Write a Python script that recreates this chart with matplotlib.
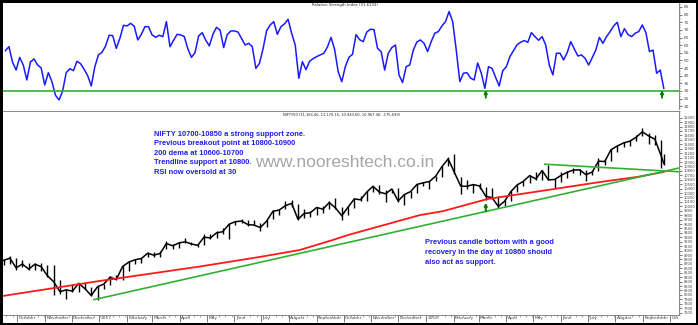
import matplotlib
matplotlib.use("Agg")
import matplotlib.pyplot as plt
import matplotlib.dates as mdates
import matplotlib.transforms as mtrans
import pandas as pd

# RSI, one reading every 4 days from 18 Sep 2016 to 24 Sep 2018
rsi_vals = [56.4, 59.0, 48.8, 43.7, 52.0, 47.0, 37.2, 49.0, 51.0, 47.0,
            45.1, 33.9, 42.0, 36.1, 27.2, 24.1, 30.0, 42.0, 44.6, 43.3,
            49.4, 47.9, 44.2, 40.0, 33.3, 45.9, 53.6, 55.3, 59.5, 66.5,
            66.2, 57.9, 64.5, 73.0, 72.6, 74.3, 72.4, 63.4, 67.1, 72.1,
            72.1, 66.7, 65.1, 66.5, 65.6, 75.4, 59.0, 63.2, 67.1, 66.7,
            65.6, 57.5, 52.0, 55.1, 66.0, 68.2, 63.2, 59.5, 67.1, 71.7,
            69.9, 58.4, 66.9, 69.3, 69.3, 68.6, 64.3, 60.1, 61.2, 59.0,
            44.8, 48.1, 57.5, 69.5, 73.2, 75.4, 67.1, 72.1, 73.9, 76.9,
            67.8, 60.1, 38.3, 49.2, 44.0, 49.4, 51.2, 52.5, 53.6, 54.7,
            58.8, 65.1, 57.3, 42.7, 36.1, 45.9, 52.0, 54.0, 66.9, 63.6,
            62.3, 68.6, 70.4, 70.2, 57.9, 55.8, 43.7, 54.7, 58.4, 60.1,
            40.5, 35.5, 45.9, 47.0, 56.8, 62.1, 63.4, 61.2, 55.8, 62.3,
            67.8, 68.9, 72.6, 75.4, 82.0, 75.4, 56.8, 36.1, 41.6, 42.0,
            38.5, 37.2, 48.3, 41.6, 31.7, 45.9, 44.8, 38.9, 33.3, 43.3,
            45.9, 52.5, 56.4, 60.3, 61.9, 63.0, 61.9, 68.2, 65.6, 63.2,
            65.6, 60.1, 47.0, 40.5, 54.7, 54.7, 50.3, 55.1, 62.3, 57.5,
            52.9, 53.6, 51.4, 47.0, 51.8, 56.8, 65.1, 61.2, 65.6, 68.9,
            72.6, 75.0, 65.6, 70.8, 66.9, 65.6, 67.8, 68.9, 73.2, 68.2,
            55.8, 56.8, 41.6, 43.7, 31.7]
rsi_dates = pd.date_range("2016-09-18", periods=len(rsi_vals), freq="4D")

# Nifty weekly bars (week ending Friday) and the last session 24 Sep 2018
wk_high = [8800, 8870, 8840, 8780, 8710, 8720, 8720, 8670, 8670, 8340,
           8130, 8240, 8275, 8275, 8180, 8200,
           8250, 8420, 8460, 8660, 8760, 8800, 8830, 8980, 8960, 8990,
           9220, 9150, 9190, 9275, 9200, 9150, 9370, 9370, 9450, 9500,
           9600, 9660, 9710, 9700, 9700, 9620, 9700, 9910, 9930, 10115,
           10140, 10060, 9950, 9900, 9990, 10000, 10130, 10180, 9980, 10000,
           10190, 10240, 10340, 10460, 10490, 10370, 10400, 10420, 10280, 10350,
           10500, 10540,
           10570, 10690, 10910, 11110, 11171, 10670, 10590, 10500, 10530, 10440,
           10420, 10230, 10150, 10340, 10490, 10580, 10700, 10780, 10810, 10930,
           10620, 10770, 10790, 10860, 10840, 10830, 10820, 11080, 11070, 11300,
           11390, 11460, 11500, 11600, 11760, 11650, 11620, 11500, 11170]
wk_low = [8680, 8690, 8555, 8620, 8555, 8560, 8550, 8400, 8002, 8030,
          7916, 8060, 8060, 8130, 7975, 7893,
          8130, 8230, 8340, 8340, 8540, 8700, 8720, 8850, 8860, 8860,
          9030, 9040, 9050, 9170, 9130, 9075, 9120, 9270, 9285, 9375,
          9270, 9580, 9630, 9560, 9570, 9450, 9540, 9710, 9810, 9930,
          9990, 9685, 9740, 9770, 9800, 9860, 9950, 9950, 9690, 9800,
          9960, 10130, 10120, 10330, 10270, 10095, 10300, 10100, 10030, 10190,
          10300, 10450,
          10400, 10580, 10660, 10900, 10740, 10280, 10400, 10290, 10390, 10140,
          10180, 9951, 10000, 10110, 10320, 10460, 10530, 10600, 10600, 10590,
          10420, 10550, 10630, 10750, 10700, 10560, 10700, 10790, 10930, 11020,
          11230, 11340, 11350, 11470, 11590, 11400, 11390, 10866, 10943]
wk_close = [8779, 8831, 8611, 8697, 8583, 8693, 8638, 8433, 8297, 8074,
            8114, 8086, 8261, 8139, 7986, 8186,
            8244, 8401, 8349, 8641, 8741, 8794, 8822, 8940, 8898, 8935,
            9160, 9108, 9174, 9198, 9150, 9119, 9304, 9285, 9400, 9427,
            9595, 9653, 9668, 9588, 9575, 9521, 9665, 9886, 9915, 10014,
            10066, 9710, 9837, 9857, 9974, 9934, 10085, 9964, 9788, 9979,
            10167, 10147, 10323, 10452, 10322, 10283, 10390, 10121, 10265, 10333,
            10493, 10531,
            10559, 10681, 10895, 11070, 10761, 10455, 10452, 10491, 10458, 10227,
            10195, 9998, 10114, 10332, 10481, 10564, 10692, 10618, 10807, 10597,
            10605, 10696, 10768, 10818, 10822, 10714, 10772, 11019, 11010, 11278,
            11361, 11430, 11470, 11557, 11681, 11589, 11515, 11143, 10967]
wk_dates = pd.date_range("2016-09-16", periods=106, freq="W-FRI").append(
    pd.DatetimeIndex(["2018-09-24"]))

# 200 dema as drawn on the chart
ema_dates = pd.to_datetime(["2016-09-15", "2017-01-01", "2017-04-23", "2017-06-29",
                            "2017-08-13", "2017-09-19", "2017-10-06", "2017-12-25",
                            "2018-01-20", "2018-02-09", "2018-03-11", "2018-05-17",
                            "2018-07-15", "2018-08-25", "2018-09-24"])
ema_vals = [7976, 8314, 8640, 8856, 9014, 9240, 9352, 9800,
            9890, 10000, 10165, 10368, 10549, 10662, 10775]

trend_up_dates = pd.to_datetime(["2016-12-26", "2018-10-11"])
trend_up_vals = [7893, 10865]
trend_dn_dates = pd.to_datetime(["2018-05-14", "2018-10-11"])
trend_dn_vals = [10950, 10780]

rsi_arrow_dates = ["2018-03-09", "2018-09-22"]
px_arrow_date = "2018-03-09"

months = pd.date_range("2016-10-01", "2018-10-01", freq="MS")
month_labels = [str(d.year) if d.month == 1 else d.strftime("%B") for d in months]
month_labels[-1] = "Oct"

note1 = ["NIFTY 10700-10850 a strong support zone.",
         "Previous breakout point at 10800-10900",
         "200 dema at 10600-10700",
         "Trendline support at 10800.",
         "RSI now oversold at 30"]
note2 = ["Previous candle bottom with a good",
         "recovery in the day at 10860 should",
         "also act as support."]

W, H = 698, 325
fig = plt.figure(figsize=(W / 100, H / 100), dpi=100)
fig.patch.set_facecolor("black")
fig.add_artist(plt.Rectangle((3 / W, 2.3 / H), 693 / W, 319.7 / H,
                             transform=fig.transFigure, facecolor="white",
                             edgecolor="none", zorder=-1))

ax1 = fig.add_axes([3 / W, (H - 109) / H, 676 / W, 106 / H])
ax2 = fig.add_axes([3 / W, (H - 315) / H, 676 / W, 204 / H])
xlim = (pd.Timestamp("2016-09-15 08:00"), pd.Timestamp("2018-10-11"))

# --- RSI panel
ax1.plot(rsi_dates, rsi_vals, color="#1a1aff", lw=1.1)
ax1.axhline(30, color="#33b033", lw=1.2)
for d in rsi_arrow_dates:
    x = mdates.date2num(pd.Timestamp(d))
    ax1.annotate("", xy=(x, 30.6), xytext=(x, 25.6),
                 arrowprops=dict(arrowstyle="-|>", color="#008000", lw=1.4,
                                 mutation_scale=4, shrinkA=0, shrinkB=0))
ax1.set_xlim(xlim)
ax1.set_ylim(18.2, 87.6)
ax1.set_xticks([])
ax1.yaxis.tick_right()
ax1.set_yticks(range(20, 90, 5))
ax1.set_yticks(range(19, 88), minor=True)
ax1.tick_params(axis="y", which="major", labelsize=3.2, length=2, width=0.5,
                pad=1.5, colors="#444444")
ax1.tick_params(axis="y", which="minor", length=1, width=0.4, colors="#666666")
for s in ["left", "top", "bottom"]:
    ax1.spines[s].set_visible(False)
ax1.spines["right"].set_color("#777777")
ax1.spines["right"].set_linewidth(0.6)

# --- price panel
ax2.vlines(wk_dates, wk_low, wk_high, color="black", lw=1.0)
ax2.plot(wk_dates, wk_close, color="black", lw=1.1)
ax2.plot(ema_dates, ema_vals, color="#ff1a1a", lw=1.3)
ax2.plot(trend_up_dates, trend_up_vals, color="#33b033", lw=1.2)
ax2.plot(trend_dn_dates, trend_dn_vals, color="#33b033", lw=1.2)
x = mdates.date2num(pd.Timestamp(px_arrow_date))
ax2.annotate("", xy=(x, 10080), xytext=(x, 9890),
             arrowprops=dict(arrowstyle="-|>", color="#008000", lw=1.4,
                             mutation_scale=4, shrinkA=0, shrinkB=0))
ax2.set_xlim(xlim)
ax2.set_ylim(7547, 12151)
ax2.yaxis.tick_right()
ax2.set_yticks(range(7600, 12001, 100))
ax2.set_yticks(range(7550, 12151, 50), minor=True)
ax2.tick_params(axis="y", which="major", labelsize=2.6, length=2, width=0.5,
                pad=1.5, colors="#444444")
ax2.tick_params(axis="y", which="minor", length=1, width=0.4, colors="#666666")
ax2.set_xticks(months)
ax2.set_xticklabels(month_labels, ha="left")
ax2.xaxis.set_minor_locator(mdates.WeekdayLocator(byweekday=mdates.MO))
ax2.tick_params(axis="x", which="major", labelsize=3.2, length=5, width=0.5,
                pad=-4.6, colors="#444444")
ax2.tick_params(axis="x", which="minor", length=1.5, width=0.4, colors="#666666")
shift = mtrans.ScaledTranslation(1.5 / 100, 0, fig.dpi_scale_trans)
for lbl in ax2.get_xticklabels():
    lbl.set_transform(lbl.get_transform() + shift)
ax2.spines["left"].set_visible(False)
for s in ["top", "bottom", "right"]:
    ax2.spines[s].set_color("#777777")
    ax2.spines[s].set_linewidth(0.6)

# --- texts
fig.text(312 / W, 1 - 5 / H, "Relative Strength Index (31.6132)", fontsize=2.8,
         va="center", color="#222222")
fig.text(283 / W, 1 - 115 / H,
         "NIFTY50 (11,164.40, 11,170.15, 10,943.60, 10,967.40, -175.699)",
         fontsize=2.6, va="center", color="#222222")
blue = "#1f1fe6"
for i, line in enumerate(note1):
    fig.text(154 / W, 1 - (134 + 9.6 * i) / H, line, fontsize=5.4,
             fontweight="bold", color=blue, va="center", family="Liberation Sans")
for i, line in enumerate(note2):
    fig.text(425 / W, 1 - (242.5 + 9.8 * i) / H, line, fontsize=5.4,
             fontweight="bold", color=blue, va="center", family="Liberation Sans")
fig.text(255 / W, 1 - 162 / H, "www.nooreshtech.co.in", fontsize=12.5,
         color="#a6a6a6", va="center", family="Liberation Sans")

fig.savefig("out.png", dpi=100, facecolor=fig.get_facecolor())
